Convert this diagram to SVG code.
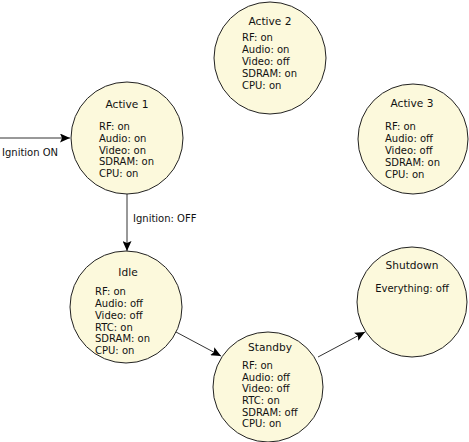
<svg xmlns="http://www.w3.org/2000/svg" width="469" height="442" viewBox="0 0 469 442">
<style>
.st{fill:#fcf9dc;stroke:#222;stroke-width:1}
text{font-family:"DejaVu Sans",Verdana,sans-serif;fill:#111}
.t{font-size:10.6px;text-anchor:middle}
.b{font-size:10px}
.l{font-size:10px}
.c{stroke:#333;stroke-width:1;fill:none;marker-end:url(#ah)}
</style>
<defs>
<marker id="ah" markerWidth="11" markerHeight="9" refX="10" refY="4.5" orient="auto" markerUnits="userSpaceOnUse">
<path d="M0,0 L10,4.5 L0,9 L2,4.5 z" fill="#000"/>
</marker>
</defs>
<g id="connectors">
<line class="c" x1="0" y1="138" x2="70" y2="138"/>
<text class="l" x="2" y="156">Ignition ON</text>
<line class="c" x1="127" y1="194" x2="127" y2="251"/>
<text class="l" x="133" y="222">Ignition: OFF</text>
<line class="c" x1="176" y1="332" x2="221" y2="356"/>
<line class="c" x1="318" y1="357" x2="365" y2="332"/>
</g>
<g id="active1">
<circle class="st" cx="127" cy="138" r="56"/>
<text class="t" x="127" y="108">Active 1</text>
<text class="b" x="99" y="130">RF: on</text>
<text class="b" x="99" y="142">Audio: on</text>
<text class="b" x="99" y="154">Video: on</text>
<text class="b" x="99" y="165">SDRAM: on</text>
<text class="b" x="99" y="177">CPU: on</text>
</g>
<g id="active2">
<circle class="st" cx="270" cy="58" r="56"/>
<text class="t" x="270" y="25">Active 2</text>
<text class="b" x="242" y="41">RF: on</text>
<text class="b" x="242" y="53">Audio: on</text>
<text class="b" x="242" y="65">Video: off</text>
<text class="b" x="242" y="77">SDRAM: on</text>
<text class="b" x="242" y="89">CPU: on</text>
</g>
<g id="active3">
<circle class="st" cx="413" cy="139" r="55"/>
<text class="t" x="412" y="107">Active 3</text>
<text class="b" x="385" y="130">RF: on</text>
<text class="b" x="385" y="142">Audio: off</text>
<text class="b" x="385" y="154">Video: off</text>
<text class="b" x="385" y="166">SDRAM: on</text>
<text class="b" x="385" y="178">CPU: on</text>
</g>
<g id="idle">
<circle class="st" cx="126" cy="307" r="56"/>
<text class="t" x="128" y="276">Idle</text>
<text class="b" x="95" y="295">RF: on</text>
<text class="b" x="95" y="307">Audio: off</text>
<text class="b" x="95" y="319">Video: off</text>
<text class="b" x="95" y="331">RTC: on</text>
<text class="b" x="95" y="342">SDRAM: on</text>
<text class="b" x="95" y="354">CPU: on</text>
</g>
<g id="standby">
<circle class="st" cx="268" cy="387" r="55"/>
<text class="t" x="270" y="351">Standby</text>
<text class="b" x="242" y="369">RF: on</text>
<text class="b" x="242" y="381">Audio: off</text>
<text class="b" x="242" y="392">Video: off</text>
<text class="b" x="242" y="404">RTC: on</text>
<text class="b" x="242" y="416">SDRAM: off</text>
<text class="b" x="242" y="427">CPU: on</text>
</g>
<g id="shutdown">
<circle class="st" cx="412" cy="302" r="55"/>
<text class="t" x="412" y="269">Shutdown</text>
<text class="b" x="412" y="292" text-anchor="middle">Everything: off</text>
</g>
</svg>
